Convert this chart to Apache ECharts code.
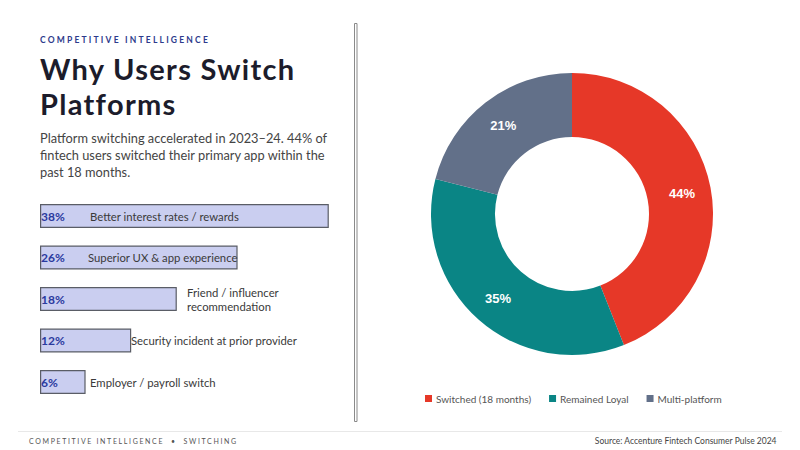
<!DOCTYPE html>
<html>
<head>
<meta charset="utf-8">
<script src="https://cdn.jsdelivr.net/npm/echarts@6/dist/echarts.min.js"></script>
<style>
  html, body { margin: 0; padding: 0; background: #fff; }
  #chart { width: 800px; height: 450px; }
  svg text[style*="SpacedA"], svg text[font-family*="SpacedA"] { letter-spacing: 2.2px; }
  svg text[style*="SpacedB"], svg text[font-family*="SpacedB"] { letter-spacing: 1.65px; }
  svg text[style*="SpacedT"], svg text[font-family*="SpacedT"] { letter-spacing: 1.3px; }
</style>
</head>
<body>
<div id="chart"></div>
<script>
// ---- data ----
var reasonCategories = [
  'Better interest rates / rewards',
  'Superior UX & app experience',
  'Friend / influencer\nrecommendation',
  'Security incident at prior provider',
  'Employer / payroll switch'
];
var reasonValues = [38, 26, 18, 12, 6];

var statusNames = ['Switched (18 months)', 'Remained Loyal', 'Multi-platform'];
var statusValues = [44, 35, 21];

// ---- layout / style (not data) ----
var reasonLabelDx = [50, 48, 147, 91, 50];
var statusColors = ['#e63828', '#0a8585', '#627089'];

var chart = echarts.init(document.getElementById('chart'), null, { renderer: 'svg' });

var textSeriesData = reasonValues.map(function (v, i) {
  return {
    value: v,
    label: { position: [reasonLabelDx[i], '50%'] }
  };
});

var option = {
  backgroundColor: '#ffffff',
  animation: false,
  title: [
    {
      text: 'COMPETITIVE INTELLIGENCE',
      left: 40, top: 34, padding: 0,
      textStyle: { fontFamily: 'SpacedA, Lato', fontSize: 8.5, fontWeight: 'bold', color: '#2d3a8c', lineHeight: 12 }
    },
    {
      text: 'Why Users Switch\nPlatforms',
      left: 40, top: 51, padding: 0,
      textStyle: { fontFamily: 'SpacedT, Lato', fontSize: 29, fontWeight: 'bold', color: '#1c1c2b', lineHeight: 35 }
    },
    {
      text: 'Platform switching accelerated in 2023\u201324. 44% of\nfintech users switched their primary app within the\npast 18 months.',
      left: 40, top: 129.5, padding: 0,
      textStyle: { fontFamily: 'Lato', fontSize: 12.8, fontWeight: 'normal', color: '#444444', lineHeight: 17 }
    },
    {
      text: 'COMPETITIVE INTELLIGENCE  \u2022  SWITCHING',
      left: 29, top: 435, padding: 0,
      textStyle: { fontFamily: 'SpacedB, Lato', fontSize: 7, fontWeight: 'normal', color: '#555555', lineHeight: 11 }
    },
    {
      text: 'Source: Accenture Fintech Consumer Pulse 2024',
      right: 23, top: 435, padding: 0,
      textStyle: { fontFamily: 'Lato', fontSize: 8.5, fontWeight: 'normal', color: '#444444', lineHeight: 11 }
    }
  ],
  graphic: [
    {
      type: 'rect',
      shape: { x: 354.5, y: 23.5, width: 2.5, height: 398 },
      style: { fill: '#ffffff', stroke: '#8a8a8a', lineWidth: 1 }
    },
    {
      type: 'line',
      shape: { x1: 18, y1: 431.5, x2: 782, y2: 431.5 },
      style: { stroke: '#e8e8e8', lineWidth: 1 }
    }
  ],
  grid: { left: 40, width: 380, top: 195.25, height: 207.5, containLabel: false },
  xAxis: { type: 'value', min: 0, max: 50, show: false },
  yAxis: { type: 'category', data: reasonCategories, inverse: true, show: false },
  legend: {
    data: statusNames,
    left: 425, top: 393.5, padding: 0,
    icon: 'rect', itemWidth: 7, itemHeight: 7, itemGap: 18,
    textStyle: { fontFamily: 'Lato', fontSize: 10, color: '#555555', padding: [0, 0, 0, -1] }
  },
  series: [
    {
      type: 'bar',
      data: reasonValues,
      barWidth: 24,
      itemStyle: { color: '#cacef0', borderColor: '#5a5d66', borderWidth: 1.2 },
      label: {
        show: true, position: 'insideLeft', distance: 1,
        formatter: '{c}%',
        fontFamily: 'Lato', fontSize: 12, fontWeight: 'bold', color: '#2b3a9e'
      },
      emphasis: { disabled: true },
      silent: true
    },
    {
      type: 'bar',
      data: textSeriesData,
      barWidth: 24,
      barGap: '-100%',
      itemStyle: { color: 'rgba(0,0,0,0)' },
      label: {
        show: true, align: 'left', verticalAlign: 'middle',
        formatter: function (p) { return reasonCategories[p.dataIndex]; },
        fontFamily: 'Lato', fontSize: 11.3, color: '#3a3a3a', lineHeight: 14
      },
      emphasis: { disabled: true },
      silent: true
    },
    {
      type: 'pie',
      center: [572, 214],
      radius: [77, 141],
      startAngle: 90,
      clockwise: true,
      data: statusNames.map(function (n, i) {
        return { name: n, value: statusValues[i], itemStyle: { color: statusColors[i] } };
      }),
      label: {
        show: true, position: 'inside',
        formatter: '{c}%',
        fontFamily: 'Liberation Sans, Arial', fontSize: 13, fontWeight: 'bold', color: '#ffffff'
      },
      labelLine: { show: false },
      emphasis: { disabled: true },
      silent: true
    }
  ]
};
chart.setOption(option);
</script>
</body>
</html>
